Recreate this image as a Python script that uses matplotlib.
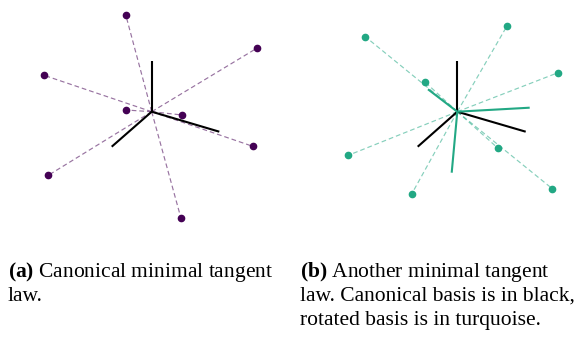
import numpy as np
import matplotlib.pyplot as plt

# projected positions (pixels) of the tangent law samples and basis vectors
center_a = (151.7, 111.7)
law_a_x = [125.7, 256.7, 44.0, 126.0, 182.3, 252.7, 48.3, 181.0]
law_a_y = [14.7, 48.3, 75.3, 110.0, 115.0, 146.3, 175.3, 218.3]
basis_a_x = [151.7, 219.3, 111.7]
basis_a_y = [60.7, 131.7, 146.7]

center_b = (457.3, 111.7)
law_b_x = [365.3, 507.0, 558.0, 424.7, 348.3, 497.7, 552.3, 411.7]
law_b_y = [36.7, 26.0, 72.7, 81.7, 155.3, 148.0, 188.7, 194.0]
basis_b_x = [457.3, 525.7, 417.7]
basis_b_y = [60.7, 131.7, 146.7]
rot_b_x = [428.0, 529.7, 451.7]
rot_b_y = [89.3, 107.7, 172.7]

caption_a = [r'$\bf{(a)}$ Canonical minimal tangent', 'law.']
caption_b = [r'$\bf{(b)}$ Another minimal tangent',
             'law. Canonical basis is in black,',
             'rotated basis is in turquoise.']

purple = '#440154'
turquoise = '#22a884'

plt.rcParams['font.family'] = ['Liberation Serif', 'DejaVu Serif']
plt.rcParams['mathtext.fontset'] = 'custom'
plt.rcParams['mathtext.rm'] = 'Liberation Serif'
plt.rcParams['mathtext.bf'] = 'Liberation Serif:bold'

fig = plt.figure(figsize=(5.87, 3.38), dpi=100)
ax = fig.add_axes([0, 0, 1, 1])
ax.set_xlim(0, 587)
ax.set_ylim(338, 0)
ax.axis('off')


def draw_law(center, xs, ys, color):
    for x, y in zip(xs, ys):
        ax.plot([center[0], x], [center[1], y], ls=(0, (4, 2.5)), lw=0.85,
                color=color, alpha=0.55, zorder=1)
    ax.plot(xs, ys, 'o', ms=4.5, color=color, zorder=3)


def draw_basis(center, xs, ys, color):
    for x, y in zip(xs, ys):
        ax.plot([center[0], x], [center[1], y], color=color, lw=1.5,
                solid_capstyle='butt', zorder=2)


def draw_caption(x, lines, y0=277, step=24):
    for i, line in enumerate(lines):
        ax.text(x, y0 + i * step, line, fontsize=15.5, ha='left', va='baseline')


draw_law(center_a, law_a_x, law_a_y, purple)
draw_basis(center_a, basis_a_x, basis_a_y, 'black')

draw_law(center_b, law_b_x, law_b_y, turquoise)
draw_basis(center_b, basis_b_x, basis_b_y, 'black')
draw_basis(center_b, rot_b_x, rot_b_y, turquoise)

draw_caption(8, caption_a)
draw_caption(300, caption_b)

fig.savefig('out.png', dpi=100)
